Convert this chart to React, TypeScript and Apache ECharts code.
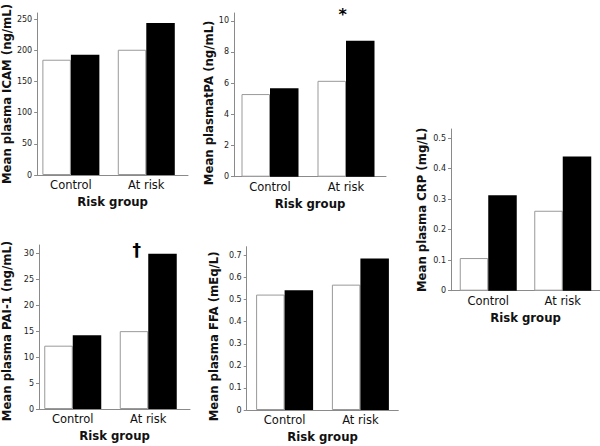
import React, { useEffect, useRef } from 'react';
import * as echarts from 'echarts';

// ---- data ----
const categories = ['Control', 'At risk'];

const icamWhite = [185, 201];
const icamBlack = [193, 244];
const icamTicks = [0, 50, 100, 150, 200, 250];

const tpaWhite = [5.3, 6.15];
const tpaBlack = [5.67, 8.72];
const tpaTicks = [0, 2, 4, 6, 8, 10];

const crpWhite = [0.107, 0.262];
const crpBlack = [0.313, 0.44];
const crpTicks = [0, 0.1, 0.2, 0.3, 0.4, 0.5];

const paiWhite = [12.2, 15.0];
const paiBlack = [14.2, 29.9];
const paiTicks = [0, 5, 10, 15, 20, 25, 30];

const ffaWhite = [0.523, 0.568];
const ffaBlack = [0.543, 0.686];
const ffaTicks = [0, 0.1, 0.2, 0.3, 0.4, 0.5, 0.6, 0.7];

const yNames = [
  'Mean plasma ICAM (ng/mL)',
  'Mean plasmatPA (ng/mL)',
  'Mean plasma CRP (mg/L)',
  'Mean plasma PAI-1 (ng/mL)',
  'Mean plasma FFA (mEq/L)',
];
const xName = 'Risk group';
const markers = ['*', '\u2020'];

// ---- layout ----
const panels = [
  { white: icamWhite, black: icamBlack, ticks: icamTicks, max: 260, left: 37, top: 13, width: 151, height: 162, shift: 4, nameGap: 23, namePad: 0 },
  { white: tpaWhite, black: tpaBlack, ticks: tpaTicks, max: 10.5, left: 234, top: 13, width: 152, height: 163.7, shift: 2, nameGap: 13, namePad: 16 },
  { white: crpWhite, black: crpBlack, ticks: crpTicks, max: 0.53, left: 451, top: 129, width: 155, height: 161.7, shift: 0, nameGap: 23, namePad: 0 },
  { white: paiWhite, black: paiBlack, ticks: paiTicks, max: 31.6, left: 38, top: 245, width: 152, height: 164, shift: 4, nameGap: 26, namePad: 8 },
  { white: ffaWhite, black: ffaBlack, ticks: ffaTicks, max: 0.74, left: 246.7, top: 246.7, width: 151.6, height: 163.3, shift: 0, nameGap: 27, namePad: 16 },
];

const AXIS_COLOR = '#8a8a8a';
const FONT = '"DejaVu Sans", Verdana, sans-serif';

export default function App() {
  const ref = useRef<HTMLDivElement>(null);

  useEffect(() => {
    document.body.style.margin = '0';
    const chart = echarts.init(ref.current as HTMLDivElement, null, { renderer: 'svg' });

    const grid: any[] = [];
    const xAxis: any[] = [];
    const yAxis: any[] = [];
    const series: any[] = [];

    panels.forEach((p, i) => {
      grid.push({ left: p.left, top: p.top, width: p.width, height: p.height, containLabel: false });
      xAxis.push({
        type: 'category',
        gridIndex: i,
        data: categories,
        name: xName,
        nameLocation: 'middle',
        nameGap: 21,
        nameTextStyle: { fontFamily: FONT, fontWeight: 'bold', fontSize: 11.7, color: '#111' },
        axisLine: { show: true, lineStyle: { color: AXIS_COLOR, width: 1 } },
        axisTick: { show: false },
        axisLabel: { fontFamily: FONT, fontSize: 11.5, color: '#111', margin: 4, padding: [0, p.shift * 2, 0, 0] },
        splitLine: { show: false },
      });
      yAxis.push({
        type: 'value',
        gridIndex: i,
        min: 0,
        max: p.max,
        name: yNames[i],
        nameLocation: 'middle',
        nameRotate: 90,
        nameGap: p.nameGap,
        nameTextStyle: { fontFamily: FONT, fontWeight: 'bold', fontSize: 11.7, color: '#111', padding: [0, p.namePad, 0, 0] },
        axisLine: { show: true, lineStyle: { color: AXIS_COLOR, width: 1 } },
        axisTick: { show: true, length: 3, lineStyle: { color: AXIS_COLOR }, customValues: p.ticks },
        axisLabel: { fontFamily: FONT, fontSize: 8, color: '#222', margin: 5, customValues: p.ticks },
        splitLine: { show: false },
      });
      series.push({
        type: 'bar',
        xAxisIndex: i,
        yAxisIndex: i,
        data: p.white,
        barWidth: 28.5,
        barGap: '0%',
        itemStyle: { color: '#ffffff', borderColor: '#999999', borderWidth: 1 },
        silent: true,
      });
      series.push({
        type: 'bar',
        xAxisIndex: i,
        yAxisIndex: i,
        data: p.black,
        barWidth: 28.5,
        barGap: '0%',
        itemStyle: { color: '#000000' },
        silent: true,
      });
      if (p.shift > 0) {
        series.push({
          type: 'bar',
          xAxisIndex: i,
          yAxisIndex: i,
          data: categories.map(() => 0),
          barWidth: p.shift * 2,
          barGap: '0%',
          itemStyle: { color: 'rgba(0,0,0,0)' },
          silent: true,
        });
      }
    });

    chart.setOption({
      animation: false,
      backgroundColor: '#ffffff',
      grid,
      xAxis,
      yAxis,
      series,
      graphic: [
        {
          type: 'text',
          x: 342.7,
          y: 14,
          style: { text: markers[0], font: `bold 16px ${FONT}`, fill: '#000', textAlign: 'center', textVerticalAlign: 'middle' },
        },
        {
          type: 'text',
          x: 136.7,
          y: 250,
          style: { text: markers[1], font: `bold 17px ${FONT}`, fill: '#000', textAlign: 'center', textVerticalAlign: 'middle' },
        },
      ],
    });

    return () => chart.dispose();
  }, []);

  return <div ref={ref} style={{ position: 'absolute', left: 0, top: 0, width: 600, height: 446 }} />;
}
